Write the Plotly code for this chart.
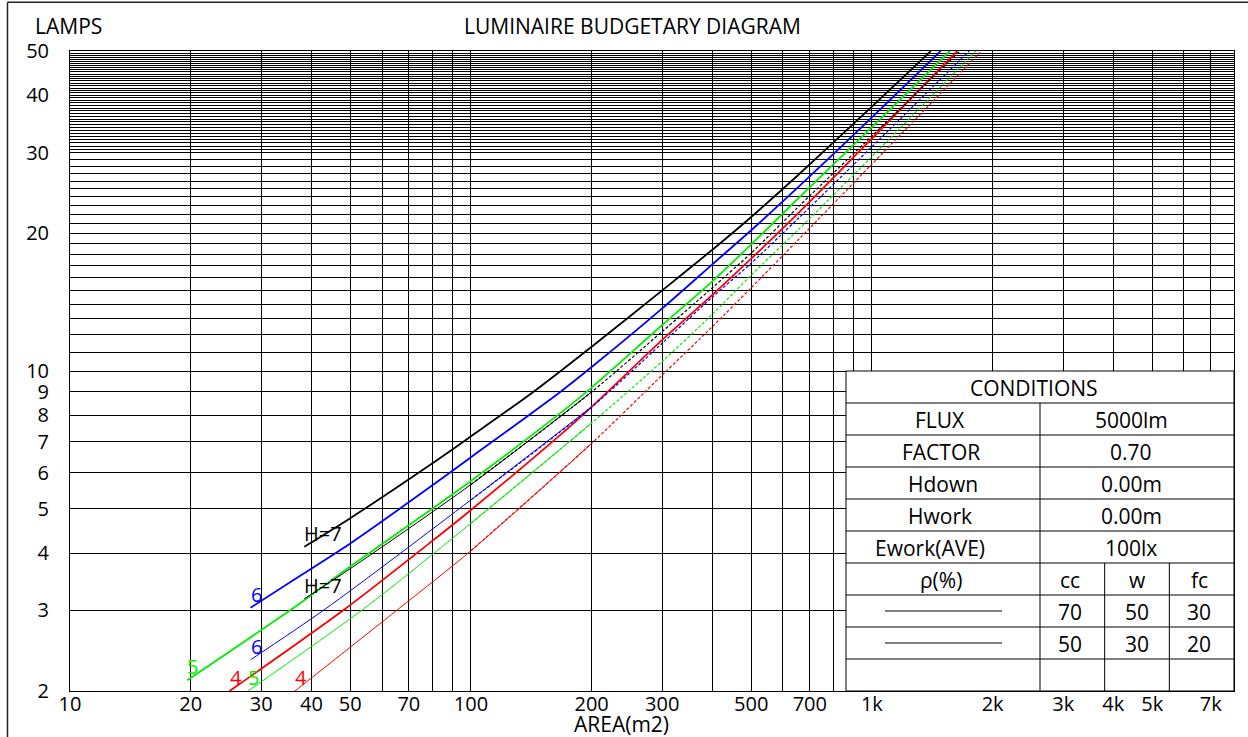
import math
import plotly.graph_objects as go

# ---------------- data ----------------
# Set 1 (reflectance cc70 / w50 / fc30) - solid thick
black1_x = [38.4, 50, 80, 100, 143, 200, 300, 400, 500, 661, 1000, 1403]
black1_y = [4.13, 4.77, 6.28, 7.2, 9.0, 11.3, 15.0, 18.4, 21.7, 27.0, 37.8, 50]
blue1_x = [28.2, 37.5, 50, 80, 100, 167, 200, 300, 400, 500, 661, 1000, 1484]
blue1_y = [3.04, 3.57, 4.20, 5.62, 6.48, 9.0, 10.2, 13.7, 17.1, 20.3, 25.4, 35.8, 50]
green1_x = [19.6, 37.5, 50, 80, 100, 167, 200, 300, 400, 500, 661, 1000, 1565]
green1_y = [2.11, 3.11, 3.74, 5.0, 5.75, 8.09, 9.2, 12.6, 15.7, 18.9, 24.0, 34.1, 50]
red1_x = [25, 48.5, 80, 100, 171.6, 200, 300, 400, 500, 661, 1000, 1632]
red1_y = [2.0, 3.02, 4.25, 4.97, 7.4, 8.35, 11.69, 14.66, 17.6, 22.3, 32.2, 50]

# Set 2 (reflectance cc50 / w30 / fc20) - thin
black2_x = [38.4, 50, 100, 200, 300, 400, 500, 661, 1000, 1658]
black2_y = [3.18, 3.7, 5.65, 9.0, 12.2, 15.2, 18.1, 23.0, 32.6, 50]
blue2_x = [28.2, 43.3, 100, 200, 300, 400, 500, 661, 1000, 1748]
blue2_y = [2.34, 3.02, 5.23, 8.35, 11.5, 14.5, 17.2, 21.7, 30.9, 50]
green2_x = [27.8, 53.9, 100, 200, 300, 400, 500, 661, 1000, 1817]
green2_y = [2.0, 3.02, 4.65, 7.7, 10.5, 13.3, 16.2, 20.5, 29.4, 50]
red2_x = [36.4, 65.9, 100, 200, 300, 400, 500, 661, 1000, 1877]
red2_y = [2.0, 3.02, 4.05, 6.95, 9.8, 12.5, 15.2, 19.5, 28.3, 50]

curve_labels = ["H=7", "6", "5", "4"]
curve_colors = ["#000000", "#0000ff", "#00ee00", "#ff0000"]

x_label_vals = [10, 20, 30, 40, 50, 70, 100, 200, 300, 500, 700, 1000, 2000, 3000, 4000, 5000, 7000]
x_label_text = ["10", "20", "30", "40", "50", "70", "100", "200", "300", "500", "700",
                "1k", "2k", "3k", "4k", "5k", "7k"]
y_label_vals = [2, 3, 4, 5, 6, 7, 8, 9, 10, 20, 30, 40, 50]
y_label_text = ["2", "3", "4", "5", "6", "7", "8", "9", "10", "20", "30", "40", "50"]

cond_names = ["FLUX", "FACTOR", "Hdown", "Hwork", "Ework(AVE)"]
cond_values = ["5000lm", "0.70", "0.00m", "0.00m", "100lx"]
refl_head = ["cc", "w", "fc"]
refl_set1 = ["70", "50", "30"]
refl_set2 = ["50", "30", "20"]

# ---------------- geometry helpers ----------------
W, H = 1248, 737
L, R, T, B = 70, 14, 51, 46
PW, PH = W - L - R, H - T - B
X_MAX = 8000
DASH_FROM = 200

def px(xp):
    return (xp - L) / PW

def py(yp):
    return (H - B - yp) / PH

FONT = "Open Sans"
BIG = 21

fig = go.Figure()

# ---------------- curves ----------------
set1 = [(black1_x, black1_y), (blue1_x, blue1_y), (green1_x, green1_y), (red1_x, red1_y)]
set2 = [(black2_x, black2_y), (blue2_x, blue2_y), (green2_x, green2_y), (red2_x, red2_y)]

for (xs, ys), col in zip(set1, curve_colors):
    fig.add_trace(go.Scatter(x=xs, y=ys, mode="lines",
                             line=dict(color=col, width=1.8, shape="spline", smoothing=0.8),
                             showlegend=False, hoverinfo="skip"))

for (xs, ys), col in zip(set2, curve_colors):
    k = xs.index(DASH_FROM)
    # lower part: thin solid
    fig.add_trace(go.Scatter(x=xs[:k + 1], y=ys[:k + 1], mode="lines",
                             line=dict(color=col, width=1, shape="spline", smoothing=0.8),
                             showlegend=False, hoverinfo="skip"))
    # upper part: dashed (starts one point earlier so the spline joins smoothly)
    fig.add_trace(go.Scatter(x=xs[k - 1:], y=ys[k - 1:], mode="lines",
                             line=dict(color=col, width=1.2, shape="spline", smoothing=0.8,
                                       dash="3px,2px"),
                             showlegend=False, hoverinfo="skip"))

annotations = []
for (xs, ys), col, lab in list(zip(set1, curve_colors, curve_labels)) + list(zip(set2, curve_colors, curve_labels)):
    annotations.append(dict(x=math.log10(xs[0]), y=math.log10(ys[0]), xref="x", yref="y",
                            text=lab, showarrow=False, xanchor="left", yanchor="bottom",
                            xshift=-2, yshift=-2,
                            font=dict(family=FONT, size=20, color=col)))

# ---------------- grid ----------------
x_grid = [m * d for d in (10, 100, 1000) for m in range(1, 10) if m * d <= X_MAX]
y_grid = list(range(2, 31)) + [30 + 0.5 * k for k in range(1, 41)]

x_text = [x_label_text[x_label_vals.index(v)] if v in x_label_vals else "" for v in x_grid]
y_text = [y_label_text[y_label_vals.index(v)] if v in y_label_vals else "" for v in y_grid]

fig.update_xaxes(type="log", range=[1, math.log10(X_MAX)], tickmode="array",
                 tickvals=x_grid, ticktext=x_text, showgrid=True, gridcolor="#000000",
                 gridwidth=1, showline=True, linecolor="#000000", linewidth=1, mirror=True,
                 ticks="", zeroline=False, tickangle=0, ticklabelstandoff=-5,
                 tickfont=dict(family=FONT, size=20, color="#000000"))
fig.update_yaxes(type="log", range=[math.log10(2), math.log10(50)], tickmode="array",
                 tickvals=y_grid, ticktext=y_text, showgrid=True, gridcolor="#000000",
                 gridwidth=1, showline=True, linecolor="#000000", linewidth=1, mirror=True,
                 ticks="", zeroline=False, ticklabelstandoff=16,
                 tickfont=dict(family=FONT, size=20, color="#000000"))

# ---------------- titles ----------------
annotations += [
    dict(x=px(68), y=py(26), xref="paper", yref="paper", text="LAMPS", showarrow=False,
         xanchor="center", yanchor="middle", font=dict(family=FONT, size=BIG, color="#000000")),
    dict(x=px(632), y=py(26), xref="paper", yref="paper", text="LUMINAIRE BUDGETARY DIAGRAM",
         showarrow=False, xanchor="center", yanchor="middle",
         font=dict(family=FONT, size=BIG, color="#000000")),
    dict(x=px(621), y=py(724), xref="paper", yref="paper", text="AREA(m2)", showarrow=False,
         xanchor="center", yanchor="middle", font=dict(family=FONT, size=BIG, color="#000000")),
]

# ---------------- frame ----------------
shapes = [
    dict(type="line", xref="paper", yref="paper", x0=px(7.5), x1=px(7.5), y0=py(2.3), y1=py(745),
         line=dict(color="#222222", width=1.5), layer="above"),
    dict(type="line", xref="paper", yref="paper", x0=px(7.5), x1=px(1260), y0=py(2.3), y1=py(2.3),
         line=dict(color="#222222", width=1.5), layer="above"),
]

# ---------------- conditions table ----------------
TX0, TX1 = 2 / 3, 1.0
TMID = 5 / 6
SUB1, SUB2 = 5 / 6 + 1 / 18, 5 / 6 + 2 / 18
ROW = 0.05
shapes.append(dict(type="rect", xref="paper", yref="paper", x0=TX0, x1=TX1, y0=0, y1=10 * ROW,
                   fillcolor="white", line=dict(color="#000000", width=1), layer="above"))
for k in range(1, 10):
    shapes.append(dict(type="line", xref="paper", yref="paper", x0=TX0, x1=TX1, y0=k * ROW, y1=k * ROW,
                       line=dict(color="#000000", width=1), layer="above"))
shapes.append(dict(type="line", xref="paper", yref="paper", x0=TMID, x1=TMID, y0=0, y1=9 * ROW,
                   line=dict(color="#000000", width=1), layer="above"))
for sx in (SUB1, SUB2):
    shapes.append(dict(type="line", xref="paper", yref="paper", x0=sx, x1=sx, y0=0, y1=4 * ROW,
                       line=dict(color="#000000", width=1), layer="above"))
for yy in (2.5 * ROW, 1.5 * ROW):
    shapes.append(dict(type="line", xref="paper", yref="paper", x0=px(885), x1=px(1002), y0=yy, y1=yy,
                       line=dict(color="#000000", width=1), layer="above"))

def cell(text, xc, row_center):
    return dict(x=px(xc), y=row_center, xref="paper", yref="paper", text=text, showarrow=False,
                xanchor="center", yanchor="middle", yshift=-1,
                font=dict(family=FONT, size=BIG, color="#000000"))

annotations.append(cell("CONDITIONS", 1034, 9.5 * ROW))
left_x = [940, 941, 943, 940, 930]
for i, (n, v) in enumerate(zip(cond_names, cond_values)):
    rc = (8.5 - i) * ROW
    annotations.append(cell(n, left_x[i], rc))
    annotations.append(cell(v, 1131, rc))
annotations.append(cell("ρ(%)", 941, 3.5 * ROW))
sub_x = [1070, 1137, 1199]
for j in range(3):
    annotations.append(cell(refl_head[j], sub_x[j], 3.5 * ROW))
    annotations.append(cell(refl_set1[j], sub_x[j], 2.5 * ROW))
    annotations.append(cell(refl_set2[j], sub_x[j], 1.5 * ROW))

fig.update_layout(width=W, height=H, margin=dict(l=L, r=R, t=T, b=B, pad=0),
                  paper_bgcolor="white", plot_bgcolor="white", showlegend=False,
                  annotations=annotations, shapes=shapes,
                  font=dict(family=FONT, size=BIG, color="#000000"))

fig.write_html("out.html", config={"displayModeBar": False},
               post_script="document.body.style.margin='0';document.body.style.overflow='hidden';")
